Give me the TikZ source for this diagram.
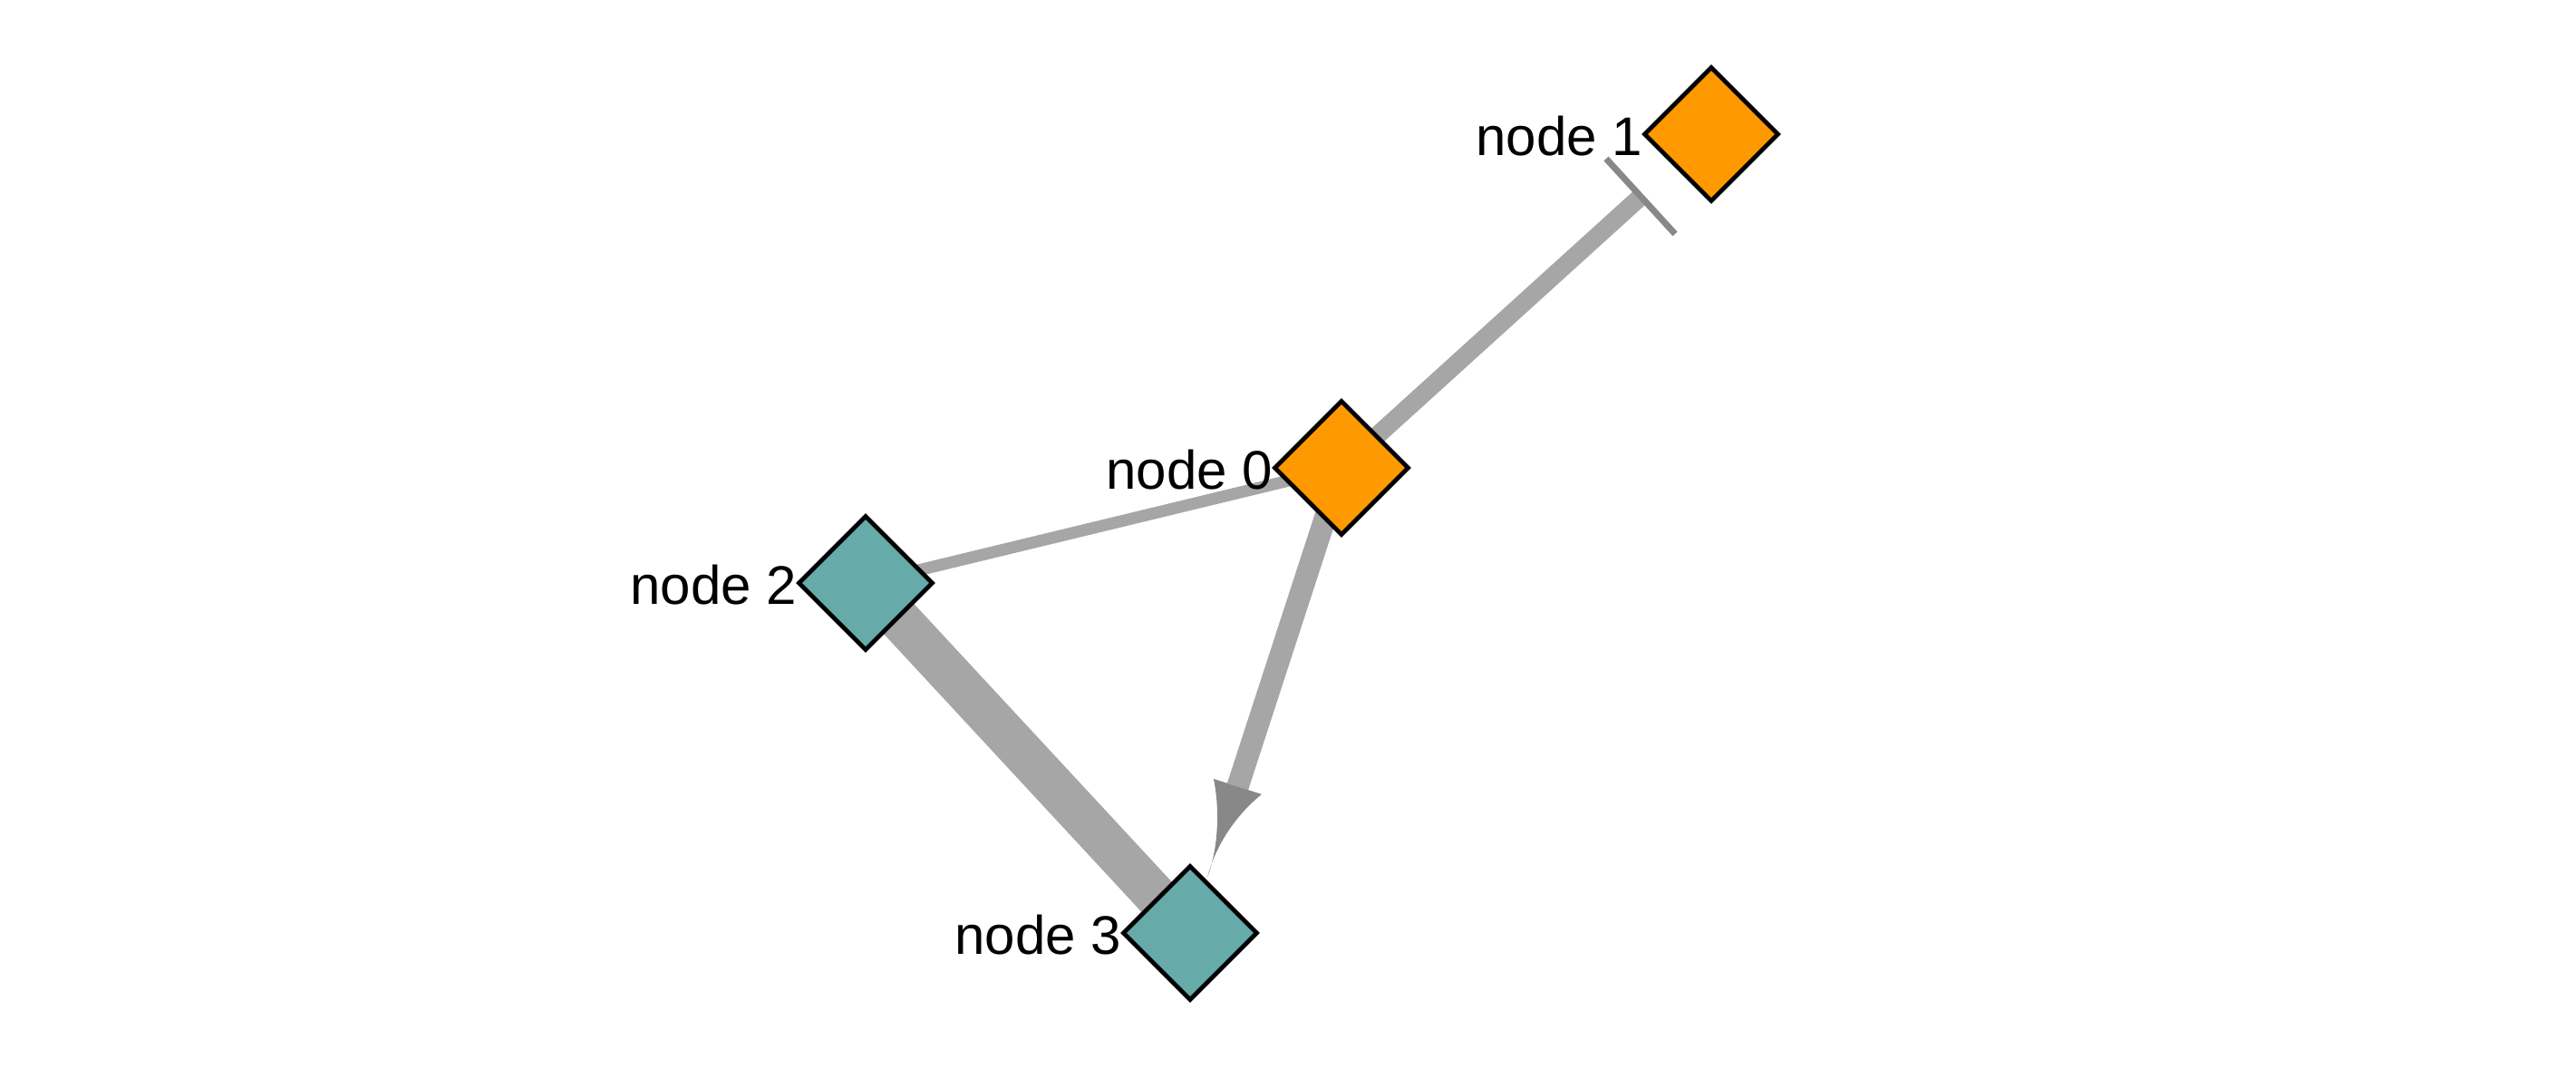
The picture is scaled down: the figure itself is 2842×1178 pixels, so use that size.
\documentclass[tikz,border=0pt]{standalone}
\usepackage{fontspec}
\setmainfont{Liberation Sans}
\usetikzlibrary{shapes.geometric,calc,backgrounds}
\definecolor{edgegray}{HTML}{A6A6A6}
\definecolor{headgray}{HTML}{888888}
\definecolor{nodeorange}{HTML}{FF9900}
\definecolor{nodeteal}{HTML}{66AAAA}
\begin{document}
\begin{tikzpicture}[x=0.5pt,y=-0.5pt,
  gnode/.style={diamond,draw=black,line width=2.4pt,inner sep=0pt,
    minimum width=74.5pt,minimum height=74.5pt},
  lbl/.style={anchor=base east,inner sep=0pt,font=\fontsize{30}{36}\selectfont},
  edgeline/.style={draw=edgegray,line cap=butt},
  headmark/.style={fill=headgray,draw=none},
  ]
\useasboundingbox (0,0) rectangle (2842,1178);
% nodes
\node[gnode,fill=nodeorange] (n0) at (1480,516) {};
\node[gnode,fill=nodeorange] (n1) at (1888,148) {};
\node[gnode,fill=nodeteal] (n2) at (955,643) {};
\node[gnode,fill=nodeteal] (n3) at (1313,1029) {};
% labels
\node[lbl] (l0) at ($(n0.center)+(-75.5,23)$) {node 0};
\node[lbl] (l1) at ($(n1.center)+(-75.5,23)$) {node 1};
\node[lbl] (l2) at ($(n2.center)+(-75.5,23)$) {node 2};
\node[lbl] (l3) at ($(n3.center)+(-75.5,23)$) {node 3};
% edge end points
\coordinate (tb) at (1810,217);
\coordinate (ab) at (1365.5,867.5);
\begin{scope}[on background layer]
  \fill[white] (0,0) rectangle (2842,1178);
  \draw[edgeline,line width=23.5pt] (n2.center) -- (n3.center);
  \draw[edgeline,line width=6.5pt] (n0.center) -- (n2.center);
  \draw[edgeline,line width=10pt] (n0.center) -- (tb);
  \draw[edgeline,line width=12.2pt] (n0.center) -- (ab);
\end{scope}
% T-bar (inhibition end) at node 1
\draw[draw=headgray,line width=3.5pt] (1772,175) -- (1848,258);
% curved arrow head at node 3
\path[headmark] (1339,859) -- (1392,876)
  .. controls (1362,900) and (1340,935) .. (1332,968)
  .. controls (1344,935) and (1346,895) .. (1339,859) -- cycle;
\end{tikzpicture}
\end{document}
